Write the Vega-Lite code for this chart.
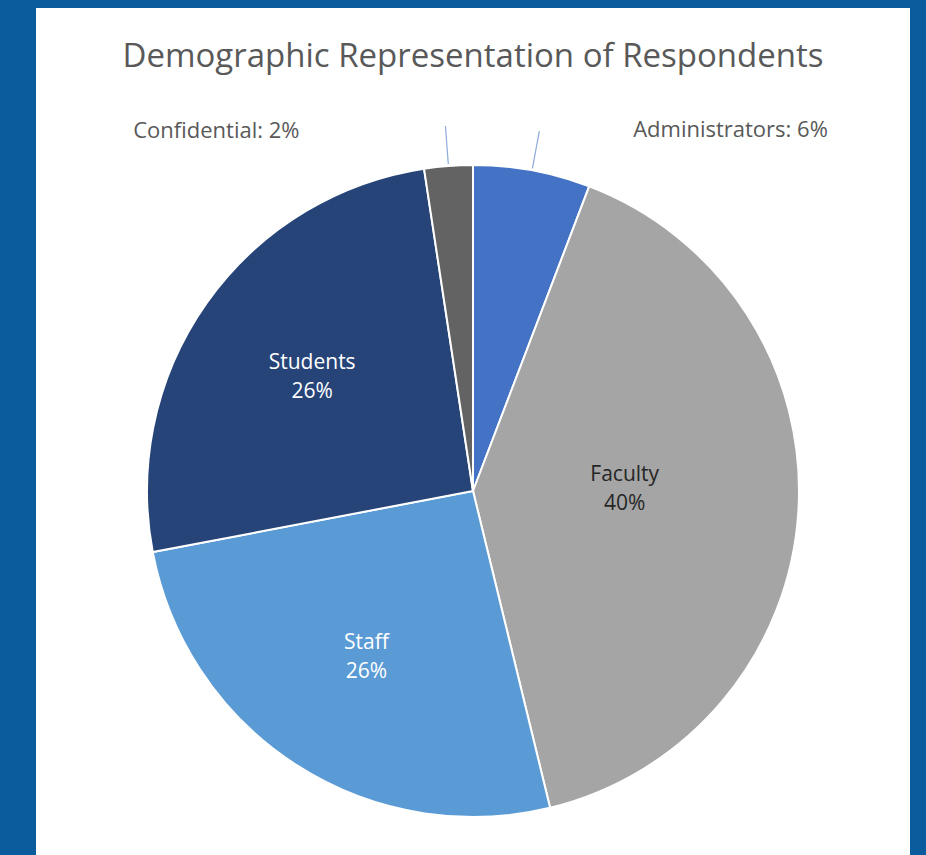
{
  "$schema": "https://vega.github.io/schema/vega-lite/v6.json",
  "background": "#0b5c9c",
  "padding": {"left": 36, "right": 16, "top": 8, "bottom": 0},
  "spacing": 0,
  "bounds": "flush",
  "config": {"view": {"fill": "white", "stroke": null}, "concat": {"spacing": 0}},
  "datasets": {
    "resp": [
      {"idx": 1, "cat": "Administrators", "value": 5.8, "pct": "6%", "outer": "Administrators: 6%"},
      {"idx": 2, "cat": "Faculty", "value": 40.4, "pct": "40%", "outer": ""},
      {"idx": 3, "cat": "Staff", "value": 25.8, "pct": "26%", "outer": ""},
      {"idx": 4, "cat": "Students", "value": 25.6, "pct": "26%", "outer": ""},
      {"idx": 5, "cat": "Confidential", "value": 2.4, "pct": "2%", "outer": "Confidential: 2%"}
    ],
    "head": [{"title": "Demographic Representation of Respondents"}]
  },
  "vconcat": [
    {
      "width": 874,
      "height": 119,
      "view": {"fill": "white", "stroke": null},
      "data": {"name": "head"},
      "mark": {"type": "text", "font": "Open Sans", "fontSize": 33, "color": "#595959", "baseline": "middle", "align": "center", "dy": -11},
      "encoding": {"text": {"field": "title"}}
    },
    {
      "width": 874,
      "height": 728,
      "view": {"fill": "white", "stroke": null},
      "data": {"name": "resp"},
      "transform": [
        {"stack": "value", "groupby": [], "sort": [{"field": "idx", "order": "ascending"}], "as": ["s0", "s1"]},
        {"fold": ["s0", "s1"], "as": ["k", "edge"]},
        {"aggregate": [{"op": "mean", "field": "edge", "as": "mid"}, {"op": "min", "field": "edge", "as": "start"}, {"op": "max", "field": "edge", "as": "end"}], "groupby": ["idx", "cat", "pct", "outer"]}
      ],
      "layer": [
        {
          "mark": {"type": "arc", "outerRadius": 326, "stroke": "white", "strokeWidth": 2},
          "encoding": {
            "theta": {"field": "start", "type": "quantitative", "scale": {"domain": [0, 100]}},
            "theta2": {"field": "end"},
            "color": {"field": "cat", "type": "nominal", "legend": null,
              "scale": {"domain": ["Administrators", "Faculty", "Staff", "Students", "Confidential"],
                        "range": ["#4472c4", "#a5a5a5", "#5b9bd5", "#264478", "#636363"]}}
          }
        },
        {
          "transform": [{"filter": "datum.cat === 'Students' || datum.cat === 'Staff'"}],
          "mark": {"type": "text", "font": "Open Sans", "fontSize": 21, "color": "white", "baseline": "middle", "radius": 197, "dy": -14},
          "encoding": {
            "theta": {"field": "mid", "type": "quantitative"},
            "text": {"field": "cat"}
          }
        },
        {
          "transform": [{"filter": "datum.cat === 'Students' || datum.cat === 'Staff'"}],
          "mark": {"type": "text", "font": "Open Sans", "fontSize": 21, "color": "white", "baseline": "middle", "radius": 197, "dy": 15},
          "encoding": {
            "theta": {"field": "mid", "type": "quantitative"},
            "text": {"field": "pct"}
          }
        },
        {
          "transform": [{"filter": "datum.cat === 'Faculty'"}],
          "mark": {"type": "text", "font": "Open Sans", "fontSize": 21, "color": "#262626", "baseline": "middle", "radius": 152, "dy": -26},
          "encoding": {
            "theta": {"field": "mid", "type": "quantitative"},
            "text": {"field": "cat"}
          }
        },
        {
          "transform": [{"filter": "datum.cat === 'Faculty'"}],
          "mark": {"type": "text", "font": "Open Sans", "fontSize": 21, "color": "#262626", "baseline": "middle", "radius": 152, "dy": 3},
          "encoding": {
            "theta": {"field": "mid", "type": "quantitative"},
            "text": {"field": "pct"}
          }
        },
        {
          "transform": [{"filter": "datum.cat === 'Confidential'"}],
          "mark": {"type": "text", "font": "Open Sans", "fontSize": 22, "color": "#595959", "baseline": "middle", "align": "right", "radius": 365, "dx": -146, "dy": 4},
          "encoding": {
            "theta": {"field": "mid", "type": "quantitative"},
            "text": {"field": "outer"}
          }
        },
        {
          "transform": [{"filter": "datum.cat === 'Administrators'"}],
          "mark": {"type": "text", "font": "Open Sans", "fontSize": 22, "color": "#595959", "baseline": "middle", "align": "left", "radius": 365, "dx": 94, "dy": -2},
          "encoding": {
            "theta": {"field": "mid", "type": "quantitative"},
            "text": {"field": "outer"}
          }
        },
        {
          "transform": [{"filter": "datum.cat === 'Confidential' || datum.cat === 'Administrators'"}],
          "mark": {"type": "arc", "fill": null, "stroke": "#8eaad8", "strokeWidth": 1.2, "radius": 328, "radius2": 366},
          "encoding": {
            "theta": {"field": "mid", "type": "quantitative"},
            "theta2": {"field": "mid"}
          }
        }
      ]
    }
  ]
}
